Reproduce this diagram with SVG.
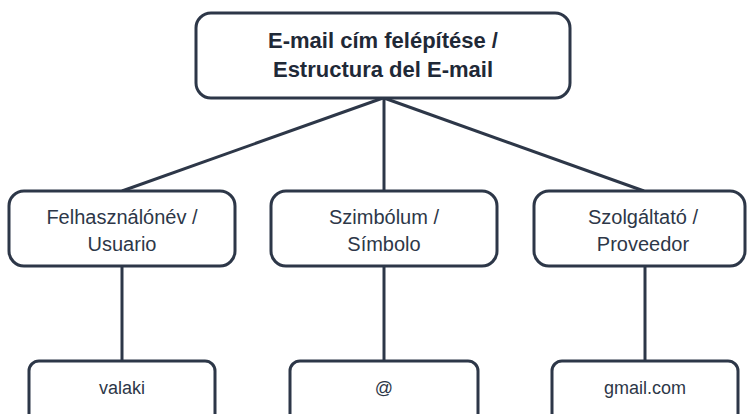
<svg xmlns="http://www.w3.org/2000/svg" width="748" height="414" viewBox="0 0 748 414">
<style>
.box{fill:#ffffff;stroke:#2d3748;stroke-width:3}
.edge{stroke:#2d3748;stroke-width:3;fill:none}
text{font-family:"Liberation Sans",Arial,sans-serif;fill:#2d3748;text-anchor:middle}
.t{font-size:22px;font-weight:bold;fill:#1f2937}
.m{font-size:20px}
.b{font-size:18px}
</style>
<rect width="748" height="414" fill="#ffffff"/>
<g id="connectors">
<line class="edge" x1="383" y1="98" x2="122" y2="191"/>
<line class="edge" x1="384" y1="98" x2="384" y2="191"/>
<line class="edge" x1="384" y1="98" x2="644" y2="191"/>
<line class="edge" x1="122" y1="266" x2="122" y2="361"/>
<line class="edge" x1="384" y1="266" x2="384" y2="361"/>
<line class="edge" x1="645" y1="266" x2="645" y2="361"/>
</g>
<g id="root">
<rect class="box" x="196" y="13" width="374" height="85" rx="15"/>
<text class="t" x="383" y="48">E-mail cím felépítése /</text>
<text class="t" x="383" y="77">Estructura del E-mail</text>
</g>
<g id="user">
<rect class="box" x="9" y="191" width="226" height="75" rx="15"/>
<text class="m" x="122" y="224">Felhasználónév /</text>
<text class="m" x="122" y="251">Usuario</text>
</g>
<g id="symbol">
<rect class="box" x="271" y="191" width="226" height="75" rx="15"/>
<text class="m" x="384" y="224">Szimbólum /</text>
<text class="m" x="384" y="251">Símbolo</text>
</g>
<g id="provider">
<rect class="box" x="534" y="191" width="211" height="75" rx="15"/>
<text class="m" x="643" y="224">Szolgáltató /</text>
<text class="m" x="643" y="251">Proveedor</text>
</g>
<g id="valaki">
<rect class="box" x="29" y="361" width="186" height="70" rx="10"/>
<text class="b" x="122" y="394">valaki</text>
</g>
<g id="at">
<rect class="box" x="290" y="361" width="188" height="70" rx="10"/>
<text class="b" x="384" y="394">@</text>
</g>
<g id="gmail">
<rect class="box" x="552" y="361" width="186" height="70" rx="10"/>
<text class="b" x="645" y="394">gmail.com</text>
</g>
</svg>
